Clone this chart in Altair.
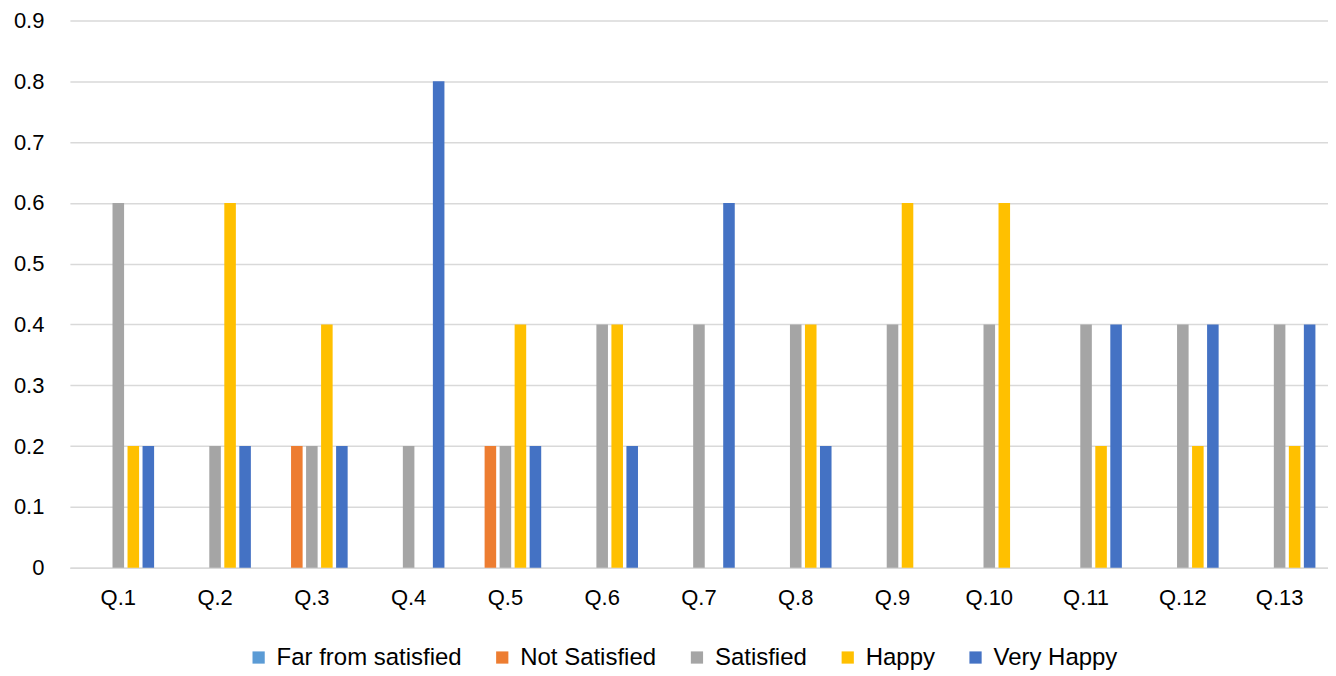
import altair as alt
import pandas as pd

questions = ["Q.1", "Q.2", "Q.3", "Q.4", "Q.5", "Q.6", "Q.7", "Q.8", "Q.9", "Q.10", "Q.11", "Q.12", "Q.13"]
series = ["Far from satisfied", "Not Satisfied", "Satisfied", "Happy", "Very Happy"]
colors = ["#5B9BD5", "#ED7D31", "#A5A5A5", "#FFC000", "#4472C4"]

far_from_satisfied = [0, 0, 0, 0, 0, 0, 0, 0, 0, 0, 0, 0, 0]
not_satisfied = [0, 0, 0.2, 0, 0.2, 0, 0, 0, 0, 0, 0, 0, 0]
satisfied = [0.6, 0.2, 0.2, 0.2, 0.2, 0.4, 0.4, 0.4, 0.4, 0.4, 0.4, 0.4, 0.4]
happy = [0.2, 0.6, 0.4, 0, 0.4, 0.4, 0, 0.4, 0.6, 0.6, 0.2, 0.2, 0.2]
very_happy = [0.2, 0.2, 0.2, 0.8, 0.2, 0.2, 0.6, 0.2, 0, 0, 0.4, 0.4, 0.4]

values = [far_from_satisfied, not_satisfied, satisfied, happy, very_happy]
rows = []
for s, vals in zip(series, values):
    for q, v in zip(questions, vals):
        rows.append({"Question": q, "Series": s, "Value": v})
df = pd.DataFrame(rows)

font = "Liberation Sans"

chart = alt.Chart(df).mark_bar().encode(
    x=alt.X("Question:N", sort=questions, title=None,
            scale=alt.Scale(paddingInner=0.26, paddingOuter=0.13),
            axis=alt.Axis(labelAngle=0, ticks=False, domain=True, domainColor="#D9D9D9",
                          domainWidth=1.5, labelFontSize=22, labelFont=font, labelColor="#000000",
                          labelPadding=20, grid=False)),
    xOffset=alt.XOffset("Series:N", sort=series,
                        scale=alt.Scale(paddingInner=0.23, paddingOuter=0)),
    y=alt.Y("Value:Q", title=None,
            scale=alt.Scale(domain=[0, 0.9], nice=False),
            axis=alt.Axis(values=[0, 0.1, 0.2, 0.3, 0.4, 0.5, 0.6, 0.7, 0.8, 0.9],
                          format="~g", domain=False, ticks=False, labelFontSize=22,
                          labelFont=font, labelColor="#000000", labelPadding=26,
                          gridColor="#D9D9D9", gridWidth=1.5)),
    color=alt.Color("Series:N", sort=series,
                    scale=alt.Scale(domain=series, range=colors),
                    legend=alt.Legend(title=None, orient="none", direction="horizontal",
                                      legendX=177, legendY=78 + 548,
                                      symbolType="square", symbolSize=150, symbolStrokeWidth=0,
                                      labelFontSize=24, labelFont=font, labelColor="#000000",
                                      labelLimit=400, columnPadding=28, labelOffset=6)),
).properties(
    width=1260, height=548,
    autosize=alt.AutoSizeParams(type="none"),
    padding={"left": 62, "top": 12, "right": 0, "bottom": 106},
).configure_view(stroke=None)

chart.save("out.html", embed_options={"renderer": "svg", "actions": False})
